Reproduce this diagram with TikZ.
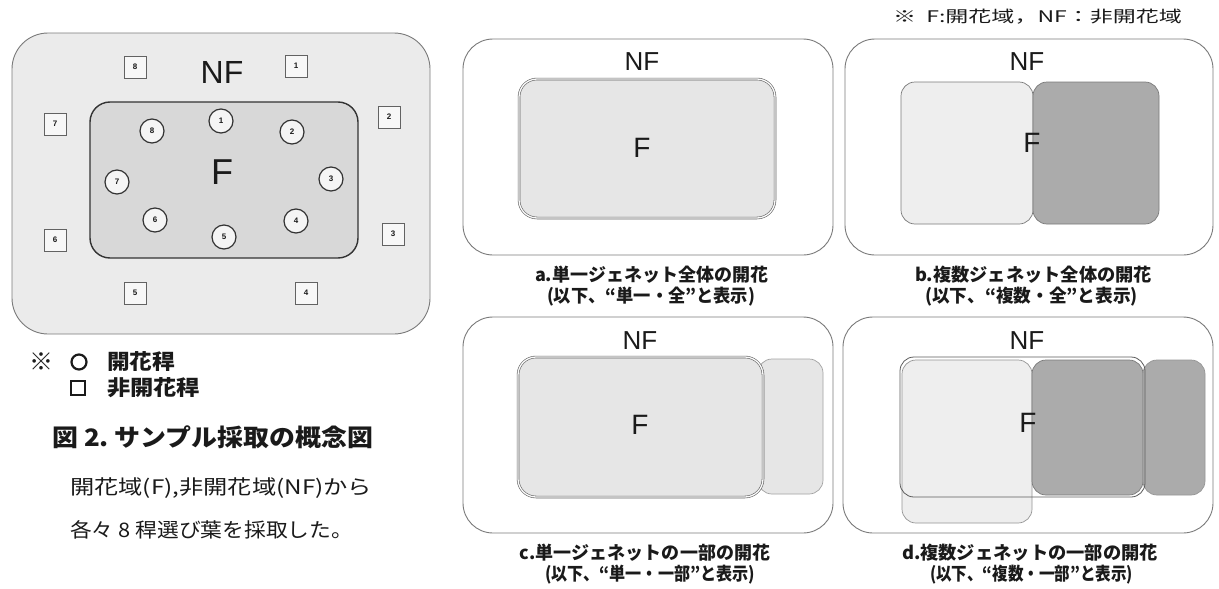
\documentclass[tikz,border=0pt]{standalone}
\usepackage{fontspec}
\usepackage{graphicx}
\setmainfont{Liberation Sans}
\newfontfamily\jp{Noto Sans CJK JP}
\newcommand\fitw[2]{\resizebox{#1}{\height}{#2}}
\definecolor{edgegray}{HTML}{7A7A7A}
\definecolor{darkedge}{HTML}{333333}
\definecolor{nfbg}{HTML}{EBEBEB}
\definecolor{fbg}{HTML}{D8D8D8}
\definecolor{lightf}{HTML}{E6E6E6}
\definecolor{paler}{HTML}{EEEEEE}
\definecolor{darkf}{HTML}{ABABAB}
\definecolor{txt}{HTML}{1A1A1A}
\tikzset{
  outerbox/.style={draw=edgegray, line width=0.9pt, rounded corners=30pt, inner sep=0pt, fill=white},
  fzone/.style={draw=edgegray!80!black, line width=0.6pt, double=white!95!gray, double distance=1.3pt, rounded corners=18pt, inner sep=0pt, fill=lightf},
  subbox/.style={draw=edgegray, line width=0.7pt, rounded corners=14pt, inner sep=0pt},
  circ/.style={circle, draw=darkedge, line width=1.2pt, fill=white!92!gray, minimum size=24pt, inner sep=0pt, font=\bfseries\fontsize{8}{8}\selectfont, text=txt},
  sq/.style={rectangle, draw=edgegray!80!black, line width=1pt, fill=white!94!gray, minimum size=22pt, inner sep=0pt, font=\bfseries\fontsize{8}{8}\selectfont, text=txt},
  biglab/.style={inner sep=0pt, text=txt, font=\fontsize{32}{32}\selectfont},
  midlab/.style={inner sep=0pt, text=txt, font=\fontsize{26}{26}\selectfont},
  jpcap/.style={inner sep=0pt, text=txt, font=\jp\bfseries\fontsize{18}{18}\selectfont},
  jpleg/.style={inner sep=0pt, text=txt, font=\jp\bfseries\fontsize{21}{21}\selectfont},
  jpbody/.style={inner sep=0pt, text=txt, font=\jp\fontsize{20}{20}\selectfont},
  legsym/.style={draw=txt, line width=2.2pt, inner sep=0pt},
}
\begin{document}
\begin{tikzpicture}[x=1pt,y=-1pt]
\useasboundingbox (0,0) rectangle (1219,589);
\fill[white] (0,0) rectangle (1219,589);

% ---------- left panel ----------
\node[outerbox, fill=nfbg, rounded corners=36pt, minimum width=418pt, minimum height=301pt] (outL) at (221,183.5) {};
\node[draw=darkedge, line width=1.4pt, rounded corners=20pt, fill=fbg, inner sep=0pt, minimum width=268pt, minimum height=156pt] (inL) at (224,180) {};
\node[biglab] (nfL) at (222,72) {NF};
\node[biglab, font=\fontsize{36}{36}\selectfont] (fL) at (222,172) {F};

\node[circ] (c1) at (221,121) {1};
\node[circ] (c2) at (292,132) {2};
\node[circ] (c3) at (331,179) {3};
\node[circ] (c4) at (296,221) {4};
\node[circ] (c5) at (224,237) {5};
\node[circ] (c6) at (155,220) {6};
\node[circ] (c7) at (117,182) {7};
\node[circ] (c8) at (152,131) {8};

\node[sq] (s1) at (296,66) {1};
\node[sq] (s2) at (389,117) {2};
\node[sq] (s3) at (393,234) {3};
\node[sq] (s4) at (306,293) {4};
\node[sq] (s5) at (135,293) {5};
\node[sq] (s6) at (55,240) {6};
\node[sq] (s7) at (55,124) {7};
\node[sq] (s8) at (135,67) {8};

% legend and caption
\node[jpleg, font=\jp\bfseries\fontsize{24}{24}\selectfont] (lgmark) at (42,362) {※};
\node[legsym, circle, minimum size=15pt] (lgcirc) at (79,362) {};
\node[jpleg, anchor=west] (lgt1) at (107,362) {\fitw{68pt}{開花稈}};
\node[legsym, rectangle, minimum size=14pt] (lgsq) at (78,388) {};
\node[jpleg, anchor=west] (lgt2) at (107,388) {\fitw{93pt}{非開花稈}};
\node[jpleg, anchor=west, font=\jp\bfseries\fontsize{24}{24}\selectfont] (title) at (52,437) {\fitw{321pt}{図 2.\ サンプル採取の概念図}};
\node[jpbody, anchor=west] (body1) at (70,488) {\fitw{302pt}{開花域(F),非開花域(NF)から}};
\node[jpbody, anchor=west] (body2) at (70,530) {\fitw{283pt}{各々 8 稈選び葉を採取した。}};

% ---------- note ----------
\node[jpbody, font=\jp\fontsize{16}{16}\selectfont] (note) at (1037.5,17) {\fitw{289pt}{※\ \ F:開花域，NF：非開花域}};

% ---------- panel a ----------
\node[outerbox, minimum width=370pt, minimum height=216pt] (outA) at (648,147) {};
\node[fzone, minimum width=256pt, minimum height=139pt] (fA) at (647,148.5) {};
\node[midlab] (nfA) at (642,62) {NF};
\node[midlab, font=\fontsize{28}{28}\selectfont] (fAl) at (642,148) {F};
\node[jpcap] (capA1) at (651.5,275) {\fitw{233pt}{a.単一ジェネット全体の開花}};
\node[jpcap] (capA2) at (651,297) {\fitw{208pt}{(以下、“単一・全”と表示)}};

% ---------- panel b ----------
\node[outerbox, minimum width=368pt, minimum height=216pt] (outB) at (1029,147) {};
\node[subbox, fill=paler, minimum width=132pt, minimum height=142pt] (bl) at (967,153) {};
\node[subbox, fill=darkf, minimum width=126pt, minimum height=142pt] (br) at (1096,153) {};
\node[midlab] (nfB) at (1027,62) {NF};
\node[midlab, font=\fontsize{28}{28}\selectfont] (fB) at (1032,143) {F};
\node[jpcap] (capB1) at (1033.5,275) {\fitw{237pt}{b.複数ジェネット全体の開花}};
\node[jpcap] (capB2) at (1031.5,297) {\fitw{213pt}{(以下、“複数・全”と表示)}};

% ---------- panel c ----------
\node[outerbox, minimum width=370pt, minimum height=216pt] (outC) at (648,425) {};
\node[subbox, draw=edgegray!70, fill=lightf, minimum width=65pt, minimum height=135pt] (cx) at (790.5,426.5) {};
\node[fzone, minimum width=245pt, minimum height=140pt] (fC) at (640.5,427) {};
\node[midlab] (nfC) at (640,341) {NF};
\node[midlab, font=\fontsize{28}{28}\selectfont] (fCl) at (640,425) {F};
\node[jpcap] (capC1) at (645,553) {\fitw{250pt}{c.単一ジェネットの一部の開花}};
\node[jpcap] (capC2) at (650,575) {\fitw{210pt}{(以下、“単一・一部”と表示)}};

% ---------- panel d ----------
\node[outerbox, minimum width=370pt, minimum height=216pt] (outD) at (1028,425) {};
\node[subbox, draw=edgegray!80, fill=paler, minimum width=130pt, minimum height=163pt] (dl) at (967,441.5) {};
\node[subbox, fill=darkf, minimum width=111pt, minimum height=135pt] (dm) at (1087.5,427.5) {};
\node[subbox, draw=edgegray!80, fill=darkf, minimum width=62pt, minimum height=135pt] (dr) at (1174,427.5) {};
\node[subbox, draw=darkedge!80, line width=0.8pt, minimum width=245pt, minimum height=140pt] (fD) at (1022.5,427) {};
\node[midlab] (nfD) at (1027,341) {NF};
\node[midlab, font=\fontsize{28}{28}\selectfont] (fDl) at (1028,423) {F};
\node[jpcap] (capD1) at (1030,553) {\fitw{256pt}{d.複数ジェネットの一部の開花}};
\node[jpcap] (capD2) at (1031.5,575) {\fitw{203pt}{(以下、“複数・一部”と表示)}};
\end{tikzpicture}
\end{document}
